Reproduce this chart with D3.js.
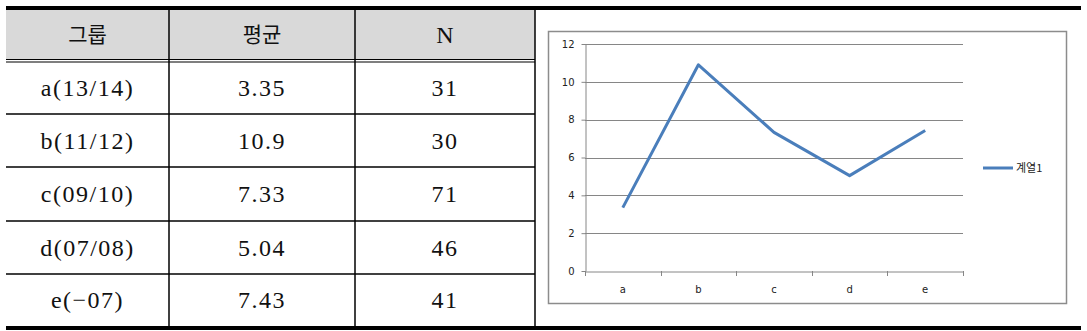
<!DOCTYPE html>
<html>
<head>
<meta charset="utf-8">
<script src="https://cdn.jsdelivr.net/npm/d3@7"></script>
<style>
  body { margin: 0; background: #fff; }
  svg { display: block; }
</style>
</head>
<body>
<svg id="root"></svg>
<script>
// table data
const headers = ["그룹", "평균", "N"];
const groups = ["a(13/14)", "b(11/12)", "c(09/10)", "d(07/08)", "e(-07)"];
const means = [3.35, 10.9, 7.33, 5.04, 7.43];
const counts = [31, 30, 71, 46, 41];
const meanLabels = ["3.35", "10.9", "7.33", "5.04", "7.43"];

// chart data
const categories = ["a", "b", "c", "d", "e"];
const yTicks = [0, 2, 4, 6, 8, 10, 12];
const seriesName = "계열1";

const W = 1087, H = 331;
const svg = d3.select('#root').attr('width', W).attr('height', H);

// ---- table ----
const colX = [6, 169, 355, 535]; // column borders
const rowY = [62, 114, 167, 221, 274, 326]; // body row borders
const tLeft = 6, tRight = 1081;
const serif = "'Liberation Serif', 'DejaVu Serif', 'Noto Sans CJK KR', serif";
const kr = "'Noto Sans CJK KR', sans-serif";

svg.append('rect')
  .attr('x', tLeft).attr('y', 10)
  .attr('width', colX[3] - tLeft).attr('height', 49)
  .attr('fill', '#d9d9d9');

// header text
svg.selectAll('.head').data(headers).join('text')
  .attr('class', 'head')
  .attr('x', (d, i) => (colX[i] + colX[i + 1]) / 2)
  .attr('y', 35)
  .attr('dy', '0.35em')
  .attr('text-anchor', 'middle')
  .attr('font-family', (d, i) => i < 2 ? kr : serif)
  .attr('font-size', (d, i) => i < 2 ? 21 : 24)
  .attr('fill', '#111')
  .text(d => d);

const rows = groups.map((g, i) => [g, meanLabels[i], String(counts[i])]);
rows.forEach((r, ri) => {
  svg.selectAll('.cell' + ri).data(r).join('text')
    .attr('class', 'cell' + ri)
    .attr('x', (d, i) => (colX[i] + colX[i + 1]) / 2)
    .attr('y', (rowY[ri] + rowY[ri + 1]) / 2)
    .attr('dy', '0.35em')
    .attr('text-anchor', 'middle')
    .attr('font-family', serif)
    .attr('font-size', 24)
    .attr('letter-spacing', 1.5)
    .attr('fill', '#111')
    .text(d => d.replace('-', '\u2212'));
});

// rules
svg.append('rect').attr('x', tLeft).attr('y', 6).attr('width', tRight - tLeft).attr('height', 4).attr('fill', '#000');
svg.append('rect').attr('x', tLeft).attr('y', 326).attr('width', tRight - tLeft).attr('height', 4).attr('fill', '#000');
[59.5, 62].forEach(y => {
  svg.append('line').attr('x1', tLeft).attr('x2', colX[3]).attr('y1', y).attr('y2', y)
    .attr('stroke', '#000').attr('stroke-width', 1.2);
});
svg.selectAll('.rowline').data(rowY.slice(1, 5)).join('line')
  .attr('class', 'rowline')
  .attr('x1', tLeft).attr('x2', colX[3])
  .attr('y1', d => d).attr('y2', d => d)
  .attr('stroke', '#000').attr('stroke-width', 1.4);
svg.selectAll('.colline').data(colX.slice(1)).join('line')
  .attr('class', 'colline')
  .attr('x1', d => d).attr('x2', d => d)
  .attr('y1', 10).attr('y2', 326)
  .attr('stroke', '#000').attr('stroke-width', 1.5);

// ---- chart ----
svg.append('rect')
  .attr('x', 548.5).attr('y', 31.5).attr('width', 518).attr('height', 272)
  .attr('fill', '#fff').attr('stroke', '#8c8c8c').attr('stroke-width', 1.5);

const plotL = 585, plotR = 963, plotT = 44, plotB = 271;
const x = d3.scaleBand().domain(categories).range([plotL, plotR]);
const y = d3.scaleLinear().domain([0, 12]).range([plotB, plotT]);
const chartFont = "'DejaVu Sans', 'Noto Sans CJK KR', sans-serif";

const chart = svg.append('g');

chart.selectAll('.grid').data(yTicks.filter(t => t > 0)).join('line')
  .attr('class', 'grid')
  .attr('x1', plotL).attr('x2', plotR)
  .attr('y1', d => Math.round(y(d)) + 0.5).attr('y2', d => Math.round(y(d)) + 0.5)
  .attr('stroke', '#868686').attr('stroke-width', 1);

const yAxis = chart.append('g')
  .attr('transform', `translate(${plotL + 0.5},0)`)
  .call(d3.axisLeft(y).tickValues(yTicks).tickSize(4).tickPadding(7).tickSizeOuter(0));
yAxis.select('.domain').attr('stroke', '#868686');
yAxis.selectAll('.tick line').attr('stroke', '#868686');
yAxis.selectAll('text').attr('font-family', chartFont).attr('font-size', 10).attr('fill', '#222');

const xAxis = chart.append('g')
  .attr('transform', `translate(0,${plotB + 0.5})`)
  .call(d3.axisBottom(x).tickSize(0).tickPadding(14).tickSizeOuter(0));
xAxis.select('.domain').attr('stroke', '#868686');
xAxis.selectAll('text').attr('font-family', chartFont).attr('font-size', 10).attr('fill', '#222');

// category boundary ticks
const bounds = categories.map(c => x(c)).concat([plotR]);
chart.selectAll('.xtick').data(bounds).join('line')
  .attr('class', 'xtick')
  .attr('x1', d => Math.round(d) + 0.5).attr('x2', d => Math.round(d) + 0.5)
  .attr('y1', plotB).attr('y2', plotB + 5)
  .attr('stroke', '#868686');

const line = d3.line()
  .x((d, i) => x(categories[i]) + x.bandwidth() / 2)
  .y(d => y(d));

chart.append('path')
  .datum(means)
  .attr('d', line)
  .attr('fill', 'none')
  .attr('stroke', '#4a7ebb')
  .attr('stroke-width', 3)
  .attr('stroke-linejoin', 'round');

// legend
const legend = svg.append('g').attr('transform', 'translate(983,168)');
legend.append('line').attr('x1', 0).attr('x2', 30).attr('y1', 0).attr('y2', 0)
  .attr('stroke', '#4a7ebb').attr('stroke-width', 3);
legend.append('text').attr('x', 33).attr('y', 0).attr('dy', '0.35em')
  .attr('font-family', kr).attr('font-size', 11).attr('fill', '#222')
  .text(seriesName);
</script>
</body>
</html>
